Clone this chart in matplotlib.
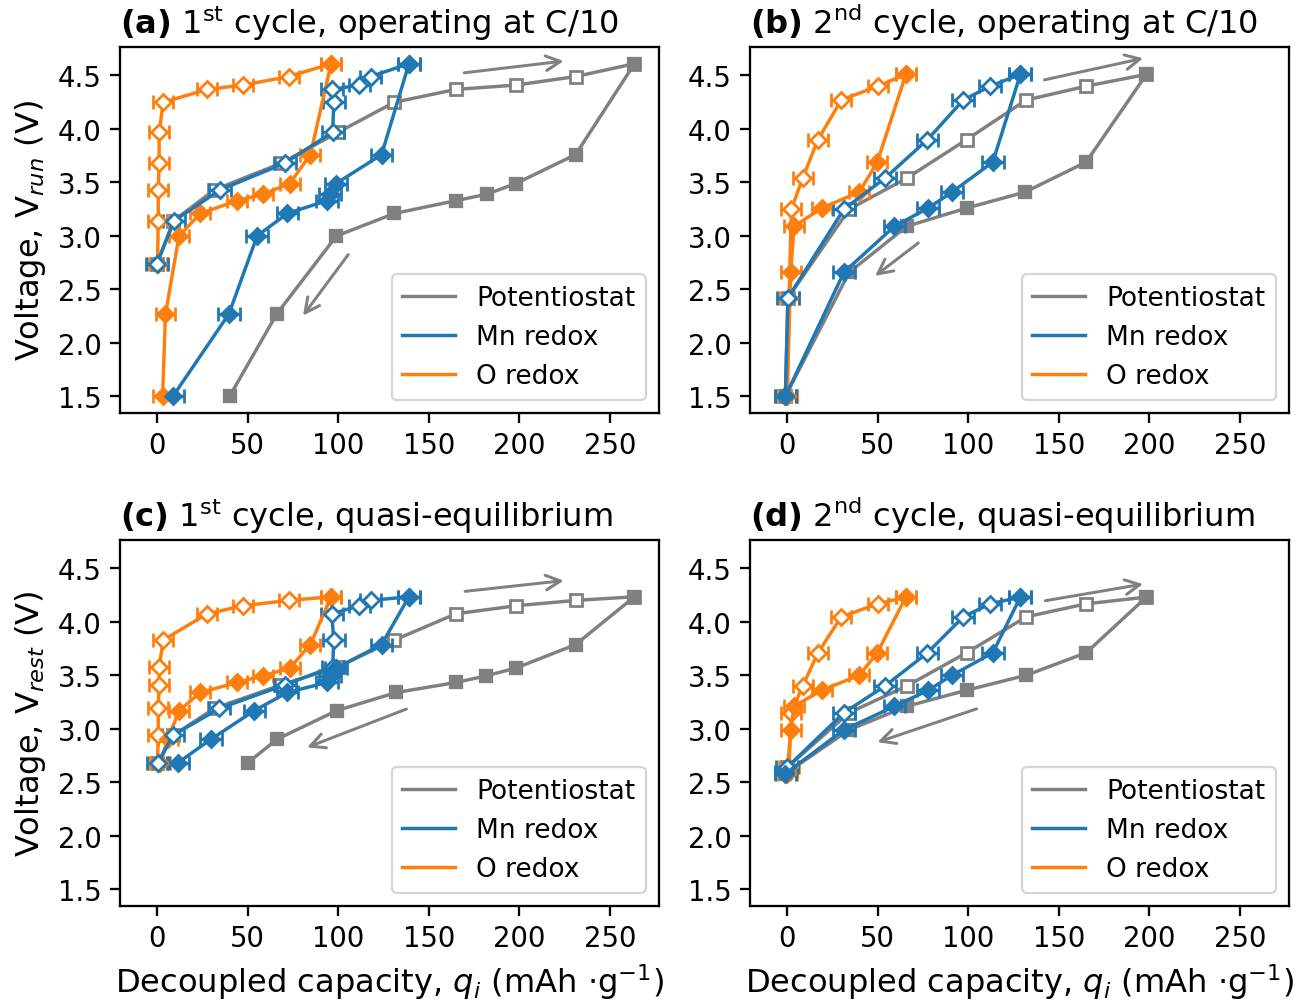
import matplotlib.pyplot as plt
from matplotlib.lines import Line2D
from matplotlib.ticker import MultipleLocator

# Voltage at each step, charge (up) and discharge (down)
v_run_chg_1 = [2.74, 3.14, 3.43, 3.68, 3.97, 4.25, 4.37, 4.41, 4.49, 4.61]
v_run_dis_1 = [4.61, 3.76, 3.49, 3.39, 3.33, 3.21, 3.00, 2.27, 1.50]
v_run_chg_2 = [1.50, 2.42, 3.25, 3.54, 3.90, 4.27, 4.40, 4.51]
v_run_dis_2 = [4.51, 3.69, 3.41, 3.26, 3.09, 2.66, 1.50]
v_rest_chg_1 = [2.68, 2.94, 3.19, 3.41, 3.58, 3.83, 4.075, 4.15, 4.20, 4.234]
v_rest_dis_1 = [4.234, 3.787, 3.567, 3.495, 3.433, 3.339, 3.17, 2.904, 2.682]
v_rest_chg_2 = [2.60, 2.64, 3.15, 3.40, 3.71, 4.046, 4.168, 4.231]
v_rest_dis_2 = [4.231, 3.71, 3.50, 3.36, 3.21, 2.99, 2.58]

# capacities (mAh/g), C/10 runs
pot_chg_1 = [0, 9, 31.5, 68.5, 100, 131, 165, 198, 231, 263.5]
pot_dis_1 = [263.5, 231, 198, 182, 165, 131, 99, 66, 40]
mn_chg_1 = [-0.2, 9.3, 34.7, 70.4, 96.9, 97.5, 96.4, 111.7, 117.8, 139]
mn_dis_1 = [139, 123.9, 98.8, 95.6, 93.7, 71.9, 55.2, 39.6, 8.7]
o_chg_1 = [0.2, 0.6, 0.6, 1.1, 1.1, 3.4, 27.7, 47.2, 72.8, 96]
o_dis_1 = [96, 84.6, 73.2, 58.4, 44.2, 23.9, 12.1, 4.6, 3.0]

pot_chg_2 = [-1, 0.4, 34.2, 66, 99, 131.9, 165, 198.3]
pot_dis_2 = [198.3, 165, 131.3, 99, 66, 34.2, -1]
mn_chg_2 = [-1, 0.4, 31.3, 54, 77.4, 97.2, 112, 128.7]
mn_dis_2 = [128.7, 113.5, 91, 77.8, 59.2, 31.3, -1]
o_chg_2 = [0, 1, 2.3, 8.5, 17, 29.8, 49.9, 65.5]
o_dis_2 = [65.5, 49.7, 39.8, 19, 3.8, 1.9, 0]

# capacities (mAh/g), quasi-equilibrium
pot_chg_qe1 = [0, 9, 31.5, 68.5, 100, 131, 165, 198, 231, 263.5]
pot_dis_qe1 = [263.5, 231, 198, 181.7, 165.2, 132, 99.2, 66.4, 50]
mn_chg_qe1 = [0.5, 8.8, 34.4, 70.4, 96.9, 97.5, 96.4, 111.7, 117.8, 139]
mn_dis_qe1 = [139, 123.9, 98.8, 95.6, 93.7, 71.9, 53.7, 29.9, 11.5]
o_chg_qe1 = [0.2, 0.6, 0.6, 1.1, 1.1, 3.4, 27.7, 47.2, 72.8, 96]
o_dis_qe1 = [96, 84.6, 73.2, 58.4, 44.2, 23.9, 12.1, 6.0, 1.5]

pot_chg_qe2 = [-1, 0, 34.2, 66, 99, 131.9, 165, 198.3]
pot_dis_qe2 = [198.3, 165, 131.9, 99, 66, 34.2, -1]
mn_chg_qe2 = [-1, 0, 31.3, 54, 77.4, 97.2, 112, 128.7]
mn_dis_qe2 = [128.7, 113.5, 91, 77.8, 59.2, 31.3, -1]
o_chg_qe2 = [0, 1, 2.3, 8.5, 17, 29.8, 49.9, 65.5]
o_dis_qe2 = [65.5, 49.7, 39.8, 19, 3.8, 1.9, 0]

mn_err = 6.0
o_err = 5.5

titles = [r'$\mathbf{(a)}$ 1$^{\rm st}$ cycle, operating at C/10',
          r'$\mathbf{(b)}$ 2$^{\rm nd}$ cycle, operating at C/10',
          r'$\mathbf{(c)}$ 1$^{\rm st}$ cycle, quasi-equilibrium',
          r'$\mathbf{(d)}$ 2$^{\rm nd}$ cycle, quasi-equilibrium']

# direction arrows: ((x_start, v_start), (x_end, v_end)) for charge and discharge
arrows_a = [((167, 4.52), (227, 4.64)), ((107, 2.86), (79, 2.22))]
arrows_b = [((139.5, 4.45), (199, 4.67)), ((74.4, 2.96), (46.5, 2.60))]
arrows_c = [((167.5, 4.28), (227, 4.39)), ((140, 3.20), (80.4, 2.81))]
arrows_d = [((140, 4.19), (199, 4.36)), ((107, 3.20), (47.4, 2.86))]

c_pot = 'gray'
c_mn = '#1f77b4'
c_o = '#ff7f0e'

fig, axes = plt.subplots(2, 2, figsize=(1304 / 165, 1002 / 165), dpi=165,
                         sharex=True, sharey=True)
fig.subplots_adjust(left=0.092, right=0.9885, top=0.952, bottom=0.095,
                    wspace=0.169, hspace=0.347)

panels = [
    (axes[0, 0], v_run_chg_1, v_run_dis_1, pot_chg_1, pot_dis_1, mn_chg_1, mn_dis_1, o_chg_1, o_dis_1, arrows_a),
    (axes[0, 1], v_run_chg_2, v_run_dis_2, pot_chg_2, pot_dis_2, mn_chg_2, mn_dis_2, o_chg_2, o_dis_2, arrows_b),
    (axes[1, 0], v_rest_chg_1, v_rest_dis_1, pot_chg_qe1, pot_dis_qe1, mn_chg_qe1, mn_dis_qe1, o_chg_qe1, o_dis_qe1, arrows_c),
    (axes[1, 1], v_rest_chg_2, v_rest_dis_2, pot_chg_qe2, pot_dis_qe2, mn_chg_qe2, mn_dis_qe2, o_chg_qe2, o_dis_qe2, arrows_d),
]

lw = 1.5
eb = dict(ms=5, lw=lw, capsize=3, mew=1.2)

for (ax, vc, vd, pc, pd, mc, md, oc, od, arr), title in zip(panels, titles):
    ax.plot(pc, vc, '-s', color=c_pot, mfc='white', ms=5, lw=lw, mew=1.2)
    ax.plot(pd, vd, '-s', color=c_pot, ms=5, lw=lw)
    ax.errorbar(oc, vc, xerr=o_err, fmt='-D', color=c_o, mfc='white', **eb)
    ax.errorbar(od, vd, xerr=o_err, fmt='-D', color=c_o, **eb)
    ax.errorbar(mc, vc, xerr=mn_err, fmt='-D', color=c_mn, mfc='white', **eb)
    ax.errorbar(md, vd, xerr=mn_err, fmt='-D', color=c_mn, **eb)
    for start, end in arr:
        ax.annotate('', xy=end, xytext=start,
                    arrowprops=dict(arrowstyle='->', color=c_pot, lw=1.3, mutation_scale=16))
    handles = [Line2D([], [], color=c_pot, lw=lw),
               Line2D([], [], color=c_mn, lw=lw),
               Line2D([], [], color=c_o, lw=lw)]
    ax.legend(handles, ['Potentiostat', 'Mn redox', 'O redox'], loc='lower right', fontsize=11.5)
    ax.set_title(title, fontsize=14, loc='left')
    ax.yaxis.set_major_locator(MultipleLocator(0.5))
    ax.xaxis.set_major_locator(MultipleLocator(50))
    ax.tick_params(labelbottom=True, labelleft=True, labelsize=12, length=4.5, width=1)
    for s in ax.spines.values():
        s.set_linewidth(1)

axes[0, 0].set_ylabel('Voltage, V$_{run}$ (V)', fontsize=14)
axes[1, 0].set_ylabel('Voltage, V$_{rest}$ (V)', fontsize=14)
for ax in axes[1]:
    ax.set_xlabel(r'Decoupled capacity, $q_i$ (mAh $\cdot$g$^{-1}$)', fontsize=14)

plt.savefig('out.png', dpi=165)
